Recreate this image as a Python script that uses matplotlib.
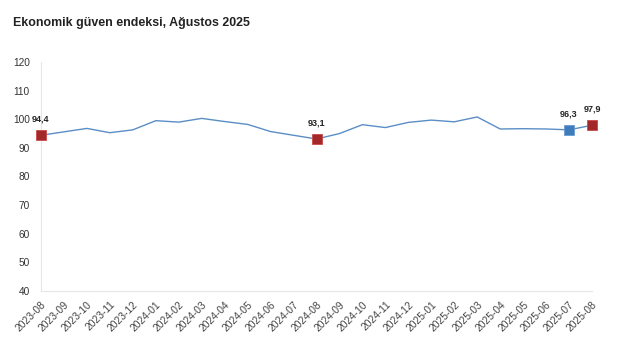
import matplotlib

matplotlib.use("Agg")
import matplotlib.pyplot as plt
from matplotlib.transforms import ScaledTranslation

# data
months = ["2023-08", "2023-09", "2023-10", "2023-11", "2023-12",
          "2024-01", "2024-02", "2024-03", "2024-04", "2024-05", "2024-06", "2024-07",
          "2024-08", "2024-09", "2024-10", "2024-11", "2024-12",
          "2025-01", "2025-02", "2025-03", "2025-04", "2025-05", "2025-06", "2025-07",
          "2025-08"]
index_values = [94.4, 95.6, 96.8, 95.3, 96.3,
                99.5, 99.0, 100.3, 99.2, 98.2, 95.7, 94.4,
                93.1, 95.0, 98.1, 97.1, 98.9,
                99.7, 99.1, 100.8, 96.6, 96.7, 96.6, 96.3,
                97.9]
red_idx = [0, 12, 24]
blue_idx = [23]
y_ticks = [40, 50, 60, 70, 80, 90, 100, 110, 120]

line_color = "#5a8ec6"
red = "#a3282a"
blue = "#3f7cbc"

plt.rcParams["font.family"] = ["Liberation Sans", "DejaVu Sans"]

fig = plt.figure(figsize=(6.2, 3.53), dpi=100)
ax = fig.add_axes([41 / 620, 1 - 291 / 353, 551 / 620, 229 / 353])

x = list(range(len(months)))
ax.plot(x, index_values, color=line_color, lw=1.0, zorder=2, clip_on=False)


def mark(i, color, edge):
    ax.plot(x[i], index_values[i], marker="s", ms=7.5, color=color, mec=edge, mew=0.6,
            zorder=3, clip_on=False)
    ax.text(x[i], index_values[i] + 5.6, f"{index_values[i]:.1f}".replace(".", ","),
            ha="center", va="center", fontsize=6.5, fontweight="bold", color="#222222")


for i in red_idx:
    mark(i, red, "#c94a4a")
for i in blue_idx:
    mark(i, blue, "#6b9bd0")

ax.set_xlim(0, len(months) - 1)
ax.set_ylim(40, 120)
ax.set_yticks(y_ticks)
ax.set_yticklabels([str(v) for v in y_ticks])
ax.set_xticks(x)
ax.set_xticklabels(months, rotation=45, ha="right", rotation_mode="anchor")
shift = ScaledTranslation(5 / 100, 0, fig.dpi_scale_trans)
for lbl in ax.get_xticklabels():
    lbl.set_transform(lbl.get_transform() + shift)
ax.tick_params(axis="x", length=0, labelsize=7.4, labelcolor="#444444", pad=6)
ax.tick_params(axis="y", length=0, labelsize=7.3, labelcolor="#333333", pad=8)

for s in ("top", "right"):
    ax.spines[s].set_visible(False)
for s in ("left", "bottom"):
    ax.spines[s].set_color("#e6e6e6")
    ax.spines[s].set_linewidth(0.8)

fig.text(13 / 620, 1 - 26 / 353, "Ekonomik güven endeksi, Ağustos 2025",
         fontsize=8.9, fontweight="bold", color="#222222", ha="left", va="baseline")

fig.savefig("out.png", dpi=100)
